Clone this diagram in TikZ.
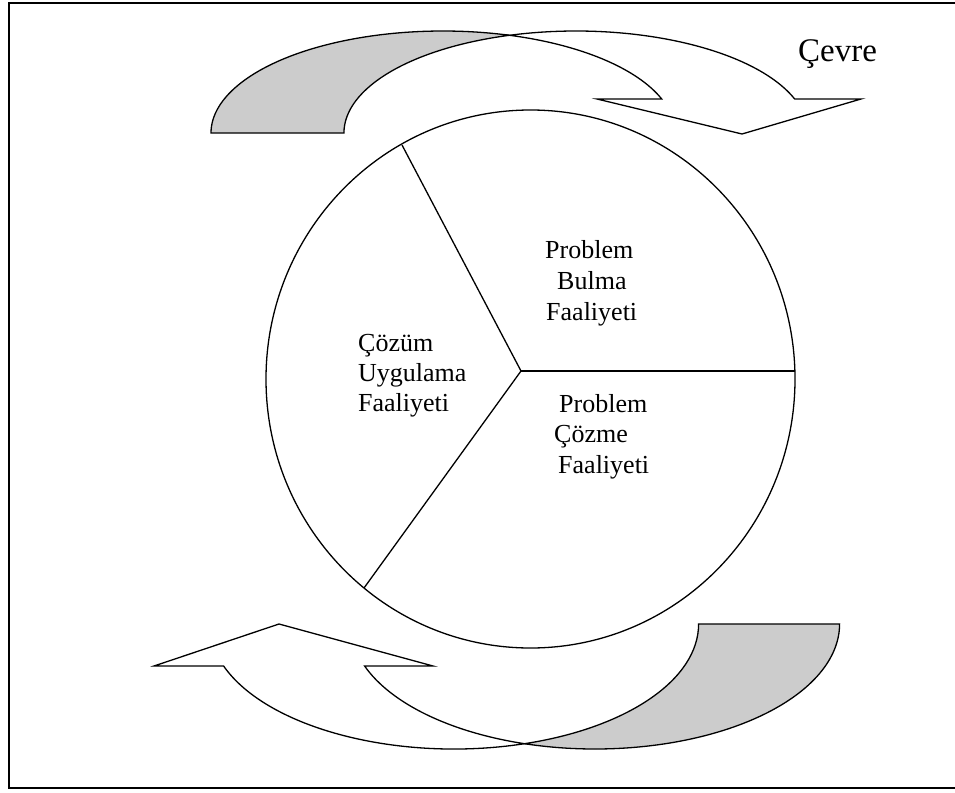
\documentclass[tikz,border=0pt]{standalone}
\usepackage{fontspec}
\setmainfont{Liberation Serif}
\begin{document}
\begin{tikzpicture}[x=1pt,y=-1pt,
  band/.style={draw=black,line width=1.3pt,line join=miter},
  back/.style={band,fill=black!20},
  front/.style={band,fill=white},
  spoke/.style={draw=black,line width=1.3pt},
  lbl/.style={anchor=base west,inner sep=0pt,font=\fontsize{26}{30}\selectfont}]
\useasboundingbox (0,0) rectangle (955,792);
\clip (0,0) rectangle (955,792);

% outer frame
\draw[line width=2pt] (9,3) rectangle (1000,788);

% upper curved arrow (two equal ellipses, shifted by the band width)
\draw[back] (211,133) arc[start angle=180,end angle=286.65,x radius=232,y radius=102]
  arc[start angle=253.35,end angle=180,x radius=232,y radius=102] -- cycle;
\draw[front] (509.5,35.3) arc[start angle=253.35,end angle=340.53,x radius=232,y radius=102]
  -- (861,99) -- (742,134) -- (597,99) -- (661.7,99)
  arc[start angle=340.53,end angle=286.65,x radius=232,y radius=102] -- cycle;

% lower curved arrow
\draw[back] (698.6,624) arc[start angle=0,end angle=73.25,x radius=244.6,y radius=125]
  arc[start angle=106.75,end angle=0,x radius=244.6,y radius=125] -- cycle;
\draw[front] (524.5,743.7) arc[start angle=106.75,end angle=160.37,x radius=244.6,y radius=125]
  -- (433,666) -- (279,624) -- (154,666) -- (223.6,666)
  arc[start angle=160.37,end angle=73.25,x radius=244.6,y radius=125] -- cycle;

% the cycle, split into three activities
\draw[spoke] (530.5,379) ellipse[x radius=264.5,y radius=269];
\coordinate (J) at (521,371);
\coordinate (E1) at (794.9,371);
\coordinate (E2) at (402,145);
\coordinate (E3) at (364,588);
\draw[spoke] (J) -- (E1);
\draw[spoke] (J) -- (E2);
\draw[spoke] (J) -- (E3);

% labels
\node[lbl] (p1) at (545,258) {Problem};
\node[lbl] (p2) at (557,289) {Bulma};
\node[lbl] (p3) at (546,320) {Faaliyeti};
\node[lbl] (q1) at (559,412) {Problem};
\node[lbl] (q2) at (554,442) {Çözme};
\node[lbl] (q3) at (558,473) {Faaliyeti};
\node[lbl] (r1) at (358,351) {Çözüm};
\node[lbl] (r2) at (358,381) {Uygulama};
\node[lbl] (r3) at (358,411) {Faaliyeti};
\node[lbl,font=\fontsize{33}{40}\selectfont] (cv) at (798,62) {Çevre};
\end{tikzpicture}
\end{document}
